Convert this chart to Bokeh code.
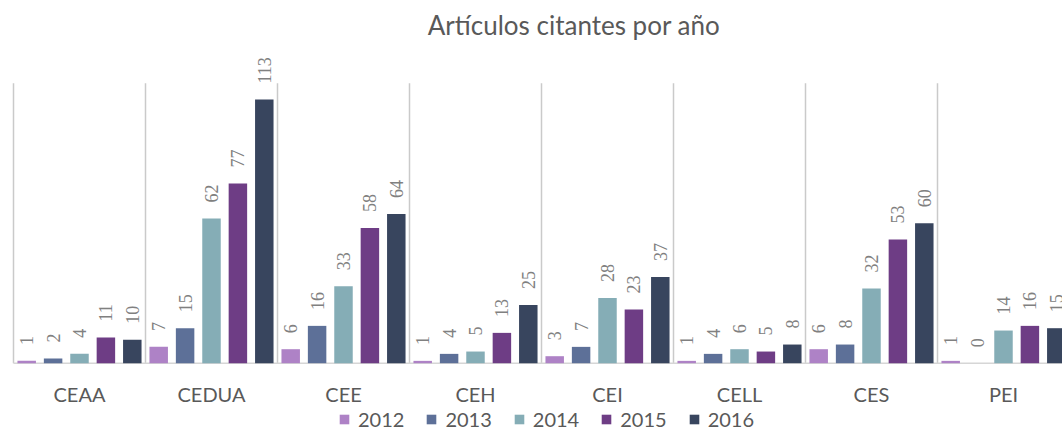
import math
from bokeh.plotting import figure
from bokeh.models import (ColumnDataSource, Range1d, LabelSet, Label,
                          Legend, LegendItem)
from bokeh.core.properties import value
from bokeh.embed import file_html
from bokeh.resources import INLINE

categories = ["CEAA", "CEDUA", "CEE", "CEH", "CEI", "CELL", "CES", "PEI"]
years = ["2012", "2013", "2014", "2015", "2016"]
v2012 = [1, 7, 6, 1, 3, 1, 6, 1]
v2013 = [2, 15, 16, 4, 7, 4, 8, 0]
v2014 = [4, 62, 33, 5, 28, 6, 32, 14]
v2015 = [11, 77, 58, 13, 23, 5, 53, 16]
v2016 = [10, 113, 64, 25, 37, 8, 60, 15]
series = [v2012, v2013, v2014, v2015, v2016]
colors = ["#AE82C6", "#5D7098", "#85ADB6", "#6E3D85", "#38455E"]

FONT = "Lato"
W, H = 1062, 431
n = len(categories)
cat_px = 132.0          # pixel width of one category
left_px = 13.0          # pixel x of first category boundary
base_px = 362.7         # pixel y of the baseline
unit_px = 2.333         # pixels per unit value
ymax = 120              # top of the value axis
step = 0.2
bar_w = 0.14

x0 = -left_px / cat_px
x1 = (W - left_px) / cat_px
y1 = base_px / unit_px
y0 = -(H - base_px) / unit_px

p = figure(width=W, height=H, output_backend="svg", toolbar_location=None,
           x_range=Range1d(x0, x1), y_range=Range1d(y0, y1),
           x_axis_location=None, y_axis_location=None,
           min_border_left=0, min_border_right=0,
           min_border_top=0, min_border_bottom=0)
p.outline_line_color = None
p.xgrid.visible = False
p.ygrid.visible = False

# vertical separators between categories and baseline
bounds = list(range(n + 1))
p.segment(x0=bounds, y0=[0] * len(bounds), x1=bounds, y1=[ymax] * len(bounds),
          line_color="#cacaca", line_width=1.5)
p.segment(x0=[0], y0=[0], x1=[n], y1=[0], line_color="#d6d6d6", line_width=1.5)

items = []
for j, (yr, vals, col) in enumerate(zip(years, series, colors)):
    xs = [i + 0.5 + (j - 2) * step for i in range(n)]
    src = ColumnDataSource(dict(x=xs, top=vals, label=[str(v) for v in vals]))
    r = p.vbar(x="x", top="top", width=bar_w, bottom=0, source=src,
               fill_color=col, line_color=None)
    items.append(LegendItem(label=yr, renderers=[r]))
    p.add_layout(LabelSet(x="x", y="top", text="label", source=src,
                          angle=math.pi / 2, text_align="left", text_baseline="middle",
                          y_offset=16, text_font=FONT, text_font_size="18px",
                          text_color="#808080"))

# category labels along the baseline
cat_src = ColumnDataSource(dict(x=[i + 0.5 for i in range(n)],
                                y=[0] * n, text=categories))
p.text(x="x", y="y", text="text", source=cat_src, y_offset=31,
       text_align="center", text_baseline="middle", text_font=value(FONT),
       text_font_size="20px", text_color="#595959")

title = Label(x=573.5, y=H - 24, x_units="screen", y_units="screen",
              text="Artículos citantes por año", text_align="center",
              text_baseline="middle", text_font=FONT, text_font_size="26px",
              text_color="#595959")
p.add_layout(title)

legend = Legend(items=items, orientation="horizontal", location=(338, 0),
                glyph_width=12, glyph_height=12, label_standoff=8, spacing=21,
                padding=0, margin=0, border_line_color=None,
                background_fill_alpha=0, label_text_font=FONT,
                label_text_font_size="20px", label_text_color="#595959",
                label_height=17)
p.add_layout(legend, "center")

open("out.html", "w").write(file_html(p, INLINE))
